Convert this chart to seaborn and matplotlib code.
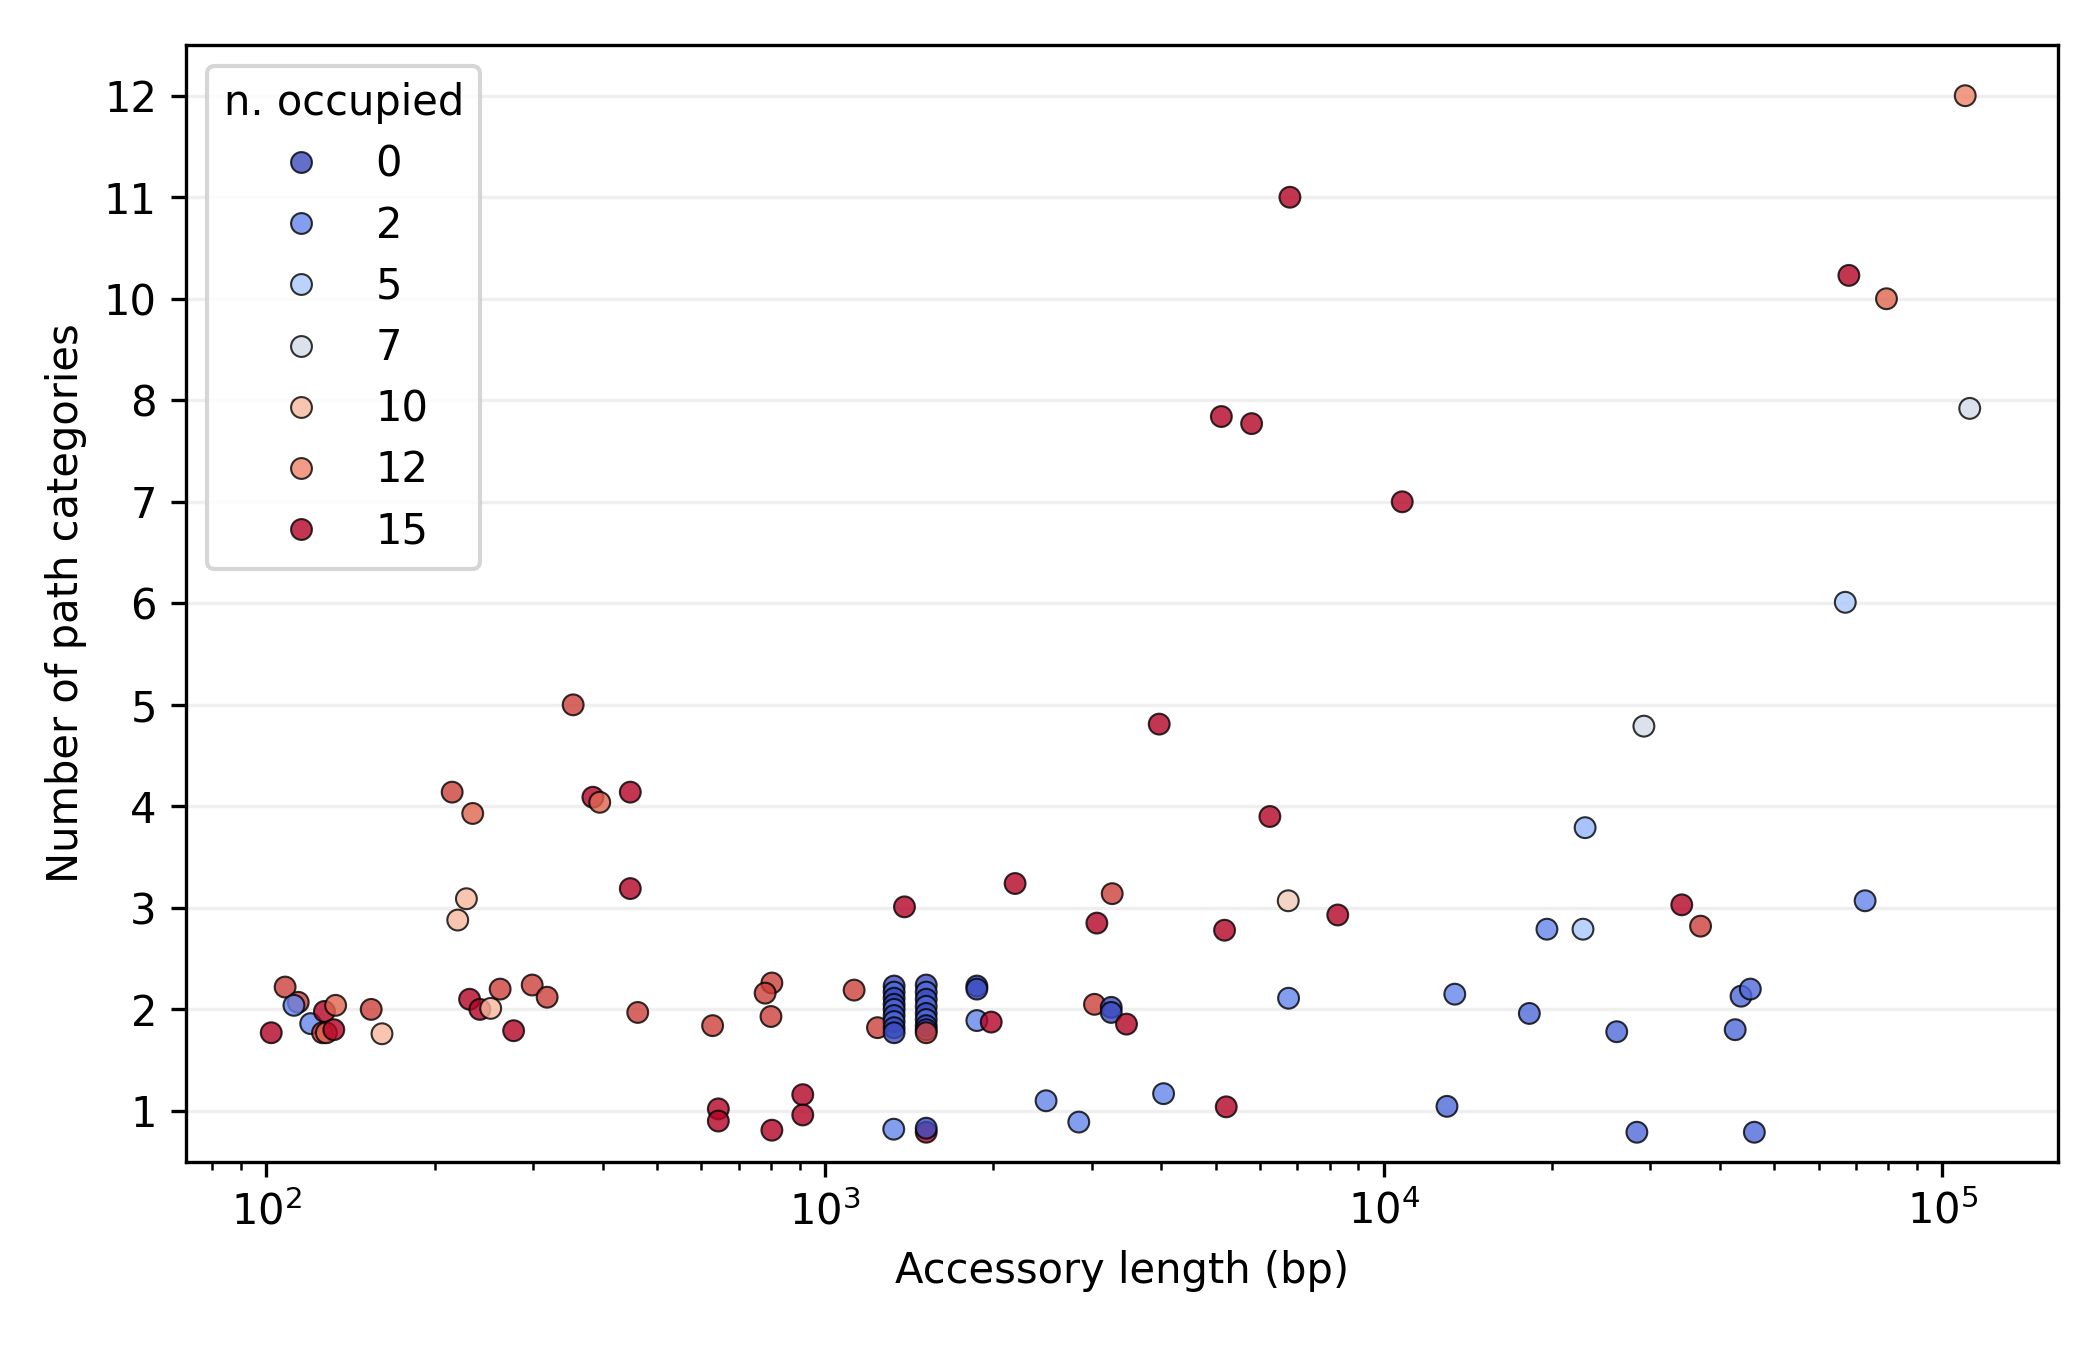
import matplotlib
matplotlib.use('Agg')
import matplotlib.pyplot as plt
import seaborn as sns
import numpy as np
import pandas as pd

# y axis shows only the category counts that occur, one row per value
cat_levels = [1, 2, 3, 4, 5, 6, 7, 8, 10, 11, 12]

# accessory length (bp), number of path categories, vertical jitter, n. occupied
acc_length = [
    354, 215, 234, 384, 395, 448, 448, 228, 220,
    108, 114, 112, 120, 127, 133, 126, 128, 132, 102, 154, 161,
    231, 241, 252, 262, 277, 299, 318, 462,
    1387, 2188, 3065, 803, 781, 800, 629, 1127, 1241,
    1329, 1329, 1329, 1329, 1329, 1329, 1329, 1329, 1329,
    1517, 1517, 1517, 1517, 1517, 1517, 1517, 1517, 1517,
    1869, 1869, 1869, 1983, 3035,
    644, 644, 803, 912, 912, 1327, 1517, 1517, 2486, 2845,
    3963, 6254, 3265, 5188, 6745, 8272, 3252, 3252, 3463, 6754, 13400,
    4035, 5224, 12975,
    29213, 22930, 34150, 36900, 72700, 19590, 22730,
    18220, 26120, 42560, 43600, 45300, 28380, 46060,
    109840, 6792, 68000, 79400, 111900, 5120, 5800, 10790, 67000,
]
n_categories = [
    5, 4, 4, 4, 4, 4, 3, 3, 3,
    2, 2, 2, 2, 2, 2, 2, 2, 2, 2, 2, 2,
    2, 2, 2, 2, 2, 2, 2, 2,
    3, 3, 3, 2, 2, 2, 2, 2, 2,
    2, 2, 2, 2, 2, 2, 2, 2, 2,
    2, 2, 2, 2, 2, 2, 2, 2, 2,
    2, 2, 2, 2, 2,
    1, 1, 1, 1, 1, 1, 1, 1, 1, 1,
    5, 4, 3, 3, 3, 3, 2, 2, 2, 2, 2,
    1, 1, 1,
    5, 4, 3, 3, 3, 3, 3,
    2, 2, 2, 2, 2, 1, 1,
    12, 11, 10, 10, 8, 8, 8, 7, 6,
]
jitter = [
    0.00, 0.14, -0.07, 0.09, 0.04, 0.14, 0.19, 0.09, -0.12,
    0.22, 0.07, 0.04, -0.14, -0.02, 0.04, -0.23, -0.23, -0.20, -0.23, 0.00, -0.24,
    0.10, 0.00, 0.01, 0.20, -0.21, 0.24, 0.12, -0.03,
    0.01, 0.24, -0.15, 0.26, 0.16, -0.07, -0.16, 0.19, -0.18,
    0.23, 0.17, 0.11, 0.05, 0.00, -0.06, -0.12, -0.18, -0.23,
    0.24, 0.17, 0.10, 0.03, -0.04, -0.10, -0.16, -0.20, -0.23,
    0.23, 0.20, -0.11, -0.125, 0.05,
    0.02, -0.10, -0.19, 0.16, -0.04, -0.18, -0.21, -0.17, 0.10, -0.11,
    -0.19, -0.10, 0.14, -0.22, 0.07, -0.07, 0.02, -0.03, -0.145, 0.11, 0.15,
    0.17, 0.04, 0.045,
    -0.21, -0.21, 0.03, -0.18, 0.07, -0.21, -0.21,
    -0.04, -0.22, -0.20, 0.13, 0.20, -0.21, -0.21,
    0.00, 0.00, 0.23, 0.00, -0.08, -0.16, -0.23, 0.00, 0.01,
]
n_occupied = [
    14, 14, 13, 15, 13, 15, 15, 10, 10,
    14, 14, 2, 2, 15, 13, 14, 13, 15, 15, 14, 10,
    15, 15, 10, 14, 15, 14, 14, 14,
    15, 15, 15, 14, 14, 14, 14, 14, 14,
    0, 1, 0, 0, 1, 0, 1, 0, 0,
    0, 1, 0, 1, 0, 1, 0, 0, 14,
    0, 0, 2, 15, 14,
    15, 15, 15, 15, 15, 2, 15, 0, 2, 2,
    15, 15, 14, 15, 9, 15, 0, 0, 15, 2, 2,
    2, 15, 1,
    7, 4, 15, 14, 2, 2, 5,
    1, 1, 1, 1, 1, 1, 1,
    12, 15, 15, 13, 7, 15, 15, 15, 5,
]

df = pd.DataFrame({
    'Accessory length (bp)': acc_length,
    'n_cat': n_categories,
    'jitter': jitter,
    'n. occupied': np.array(n_occupied, dtype=int),
})
df['ypos'] = [cat_levels.index(v) for v in df['n_cat']] + df['jitter']

fig = plt.figure(figsize=(7, 4.5), dpi=300)
ax = fig.add_axes([0.0886, 0.1395, 0.8914, 0.8272])

sns.scatterplot(data=df, x='Accessory length (bp)', y='ypos', hue='n. occupied',
                palette='coolwarm', s=25, alpha=0.8, edgecolor='black',
                linewidth=0.5, legend='brief', ax=ax)

ax.set_xscale('log')
ax.set_xlim(71.8, 161000)
ax.set_ylim(-0.5, len(cat_levels) - 0.5)
ax.set_yticks(range(len(cat_levels)))
ax.set_yticklabels([str(v) for v in cat_levels])
ax.set_xlabel('Accessory length (bp)')
ax.set_ylabel('Number of path categories')
ax.set_axisbelow(True)
ax.grid(axis='y', color='#b0b0b0', alpha=0.2, linewidth=0.8)

sns.move_legend(ax, 'upper left', labelspacing=0.46)

plt.savefig('out.png', dpi=300)
plt.close()
